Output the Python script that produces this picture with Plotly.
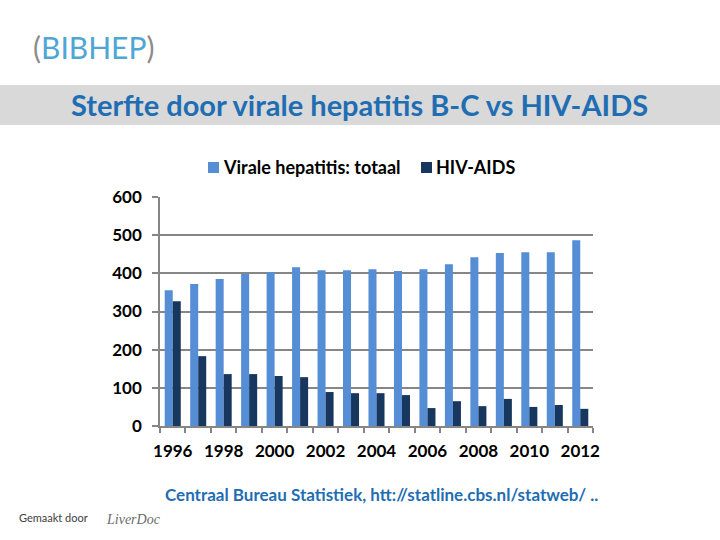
import plotly.graph_objects as go

years = list(range(1996, 2013))
virale = [356, 372, 385, 398, 403, 416, 408, 408, 411, 406, 411, 424, 442, 453, 455, 455, 487]
hiv = [327, 183, 136, 136, 131, 128, 89, 86, 86, 81, 47, 65, 52, 71, 50, 55, 45]
tick_years = list(range(1996, 2013, 2))
series_names = ["Virale hepatitis: totaal", "HIV-AIDS"]
series_colors = ["#558ed5", "#17375e"]

FONT = "Lato"
L, R, T, B = 160, 127, 197, 114
W = 720 - L - R
H = 540 - T - B

def px(x):
    return (x - L) / W

def py(y):
    return (540 - B - y) / H

fig = go.Figure()
fig.add_trace(go.Bar(x=years, y=virale, name=series_names[0],
                     marker=dict(color=series_colors[0], line=dict(width=0))))
fig.add_trace(go.Bar(x=years, y=hiv, name=series_names[1],
                     marker=dict(color=series_colors[1], line=dict(width=0))))

fig.update_layout(
    width=720, height=540,
    margin=dict(l=L, r=R, t=T, b=B, autoexpand=False),
    paper_bgcolor="white", plot_bgcolor="white",
    barmode="group", bargap=0.37, bargroupgap=0,
    font=dict(family=FONT, size=16, color="black"),
    showlegend=False,
)
fig.update_xaxes(
    range=[1995.5, 2012.5], tickmode="array", tickvals=tick_years,
    ticktext=["<b>%d</b>" % y for y in tick_years],
    ticks="outside", ticklen=0, showgrid=False, ticklabelstandoff=9,
    showline=True, linecolor="#868686", linewidth=1.5,
    minor=dict(tick0=1995.5, dtick=1, ticks="outside", ticklen=5, tickcolor="#868686", tickwidth=1.5),
    tickfont=dict(size=17, family=FONT, color="black"), zeroline=False,
)
yt = [0, 100, 200, 300, 400, 500, 600]
fig.update_yaxes(
    range=[0, 600], tickvals=yt, ticktext=["<b>%d</b>" % v for v in yt],
    ticks="outside", ticklen=6, tickcolor="#868686", tickwidth=1.5,
    ticklabelstandoff=7,
    showgrid=True, gridcolor="#868686", gridwidth=1.5,
    showline=True, linecolor="#868686", linewidth=1.5,
    tickfont=dict(size=17, family=FONT, color="black"), zeroline=False,
)

# manual legend
leg_sq = [208, 421]
for i in range(2):
    fig.add_shape(type="rect", xref="paper", yref="paper",
                  x0=px(leg_sq[i]), x1=px(leg_sq[i] + 11), y0=py(173), y1=py(162),
                  fillcolor=series_colors[i], line=dict(width=0))
    fig.add_annotation(xref="paper", yref="paper", x=px(leg_sq[i] + 13), y=py(167),
                       text="<b>%s</b>" % series_names[i], showarrow=False,
                       xanchor="left", yanchor="middle",
                       font=dict(family=FONT, size=18, color="black"))

# title band
fig.add_shape(type="rect", xref="paper", yref="paper",
              x0=px(0), x1=px(720), y0=py(125), y1=py(85),
              fillcolor="#d9d9d9", line=dict(width=0), layer="below")

fig.add_annotation(xref="paper", yref="paper", x=px(359), y=py(105),
                   text="<b>Sterfte door virale hepatitis B-C vs HIV-AIDS</b>",
                   showarrow=False, xanchor="center", yanchor="middle",
                   font=dict(family=FONT, size=29, color="#1f6db3"))

# logo
fig.add_annotation(xref="paper", yref="paper", x=px(31), y=py(47),
                   text="<span style='color:#8c8c8c'>(</span>BIBHEP<span style='color:#8c8c8c'>)</span>",
                   showarrow=False, xanchor="left", yanchor="middle",
                   font=dict(family=FONT, size=30, color="#4ea6d4"))

# source
fig.add_annotation(xref="paper", yref="paper", x=px(381), y=py(494),
                   text="<b>Centraal Bureau Statistiek, htt://statline.cbs.nl/statweb/ ..</b>",
                   showarrow=False, xanchor="center", yanchor="middle",
                   font=dict(family=FONT, size=17, color="#1f6db3"))

fig.add_annotation(xref="paper", yref="paper", x=px(17), y=py(517),
                   text="Gemaakt door", showarrow=False, xanchor="left", yanchor="middle",
                   font=dict(family=FONT, size=11, color="#404040"))
fig.add_annotation(xref="paper", yref="paper", x=px(104), y=py(519),
                   text="<i>LiverDoc</i>", showarrow=False, xanchor="left", yanchor="middle",
                   font=dict(family="Liberation Serif", size=14, color="#6a6a6a"))

fig.write_html("out.html", config={"displayModeBar": False},
               post_script="document.body.style.margin='0';document.body.style.overflow='hidden';")
